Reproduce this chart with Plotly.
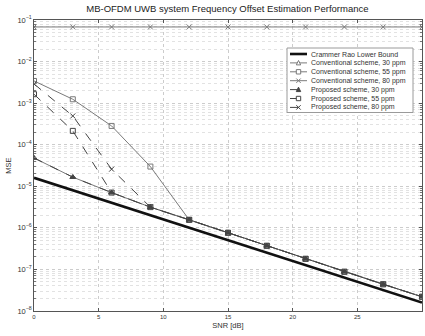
import plotly.graph_objects as go

snr = [0, 3, 6, 9, 12, 15, 18, 21, 24, 27, 30]

crlb = [1.6e-5, 8.0e-6, 4.0e-6, 2.0e-6, 1.0e-6, 5.0e-7, 2.5e-7, 1.27e-7, 6.4e-8, 3.2e-8, 1.6e-8]
conv_30 = [4.8e-5, 1.66e-5, 7.06e-6, 3.15e-6, 1.56e-6, 7.6e-7, 3.7e-7, 1.8e-7, 8.8e-8, 4.4e-8, 2.2e-8]
conv_55 = [3.42e-3, 1.24e-3, 2.83e-4, 2.98e-5, 1.56e-6, 7.6e-7, 3.7e-7, 1.8e-7, 8.8e-8, 4.4e-8, 2.2e-8]
conv_80 = [0.068] * 11
prop_30 = [4.8e-5, 1.66e-5, 7.06e-6, 3.15e-6, 1.56e-6, 7.6e-7, 3.7e-7, 1.8e-7, 8.8e-8, 4.4e-8, 2.2e-8]
prop_55 = [1.64e-3, 2.15e-4, 7.06e-6, 3.15e-6, 1.56e-6, 7.6e-7, 3.7e-7, 1.8e-7, 8.8e-8, 4.4e-8, 2.2e-8]
prop_80 = [2.9e-3, 4.92e-4, 2.58e-5, 3.15e-6, 1.56e-6, 7.6e-7, 3.7e-7, 1.8e-7, 8.8e-8, 4.4e-8, 2.2e-8]

names = ["Crammer Rao Lower Bound", "Conventional scheme, 30 ppm", "Conventional scheme, 55 ppm",
         "Conventional scheme, 80 ppm", "Proposed scheme, 30 ppm", "Proposed scheme, 55 ppm",
         "Proposed scheme, 80 ppm"]

FONT = "Liberation Sans, Arial, sans-serif"
W, H = 425, 336
ML, MR, MT, MB = 34, 3, 20, 25
PW, PH = W - ML - MR, H - MT - MB

solid_c = "#7a7a7a"
dash_c = "#444444"

# (name, y, line color, width, dash, marker symbol, marker filled)
series = [
    (names[0], crlb, "#111111", 2.6, "solid", None, False),
    (names[1], conv_30, solid_c, 1, "solid", "triangle-up-open", False),
    (names[2], conv_55, solid_c, 1, "solid", "square-open", False),
    (names[3], conv_80, solid_c, 1, "solid", "x-thin-open", False),
    (names[4], prop_30, dash_c, 1, "dash", "triangle-up", True),
    (names[5], prop_55, dash_c, 1, "dash", "square-open", False),
    (names[6], prop_80, dash_c, 1, "dash", "x-thin-open", False),
]

fig = go.Figure()
for nm, ys, col, lw, ds, sym, filled in series:
    if sym is None:
        fig.add_trace(go.Scatter(x=snr, y=ys, name=nm, mode="lines", showlegend=False,
                                 line=dict(color=col, width=lw, dash=ds)))
    else:
        fig.add_trace(go.Scatter(x=snr, y=ys, name=nm, mode="lines+markers", showlegend=False,
                                 line=dict(color=col, width=lw, dash=ds),
                                 marker=dict(symbol=sym, size=5, color=col, line=dict(width=1, color=col))))

# ---- hand-built compact legend (Matlab style) ----
def px(x):
    return (x - ML) / PW

def py(y):
    return (ML * 0 + (MT + PH) - y) / PH

shapes = []
annotations = []
bx0, bx1, by0, by1 = 287, 413, 48, 112.5
shapes.append(dict(type="rect", xref="paper", yref="paper", x0=px(bx0), x1=px(bx1), y0=py(by1), y1=py(by0),
                   line=dict(color="#9a9a9a", width=1), fillcolor="white", layer="above"))
lx0, lx1, mx = 290, 307, 298.5
for i, (nm, ys, col, lw, ds, sym, filled) in enumerate(series):
    yc = 54 + 8.9 * i
    shapes.append(dict(type="line", xref="paper", yref="paper", x0=px(lx0), x1=px(lx1), y0=py(yc), y1=py(yc),
                       line=dict(color=col, width=lw, dash="dash" if ds == "dash" else "solid"), layer="above"))
    s = 2.2
    if sym is not None:
        if sym.startswith("triangle"):
            path = "M {} {} L {} {} L {} {} Z".format(px(mx - s), py(yc + s * 0.9), px(mx + s), py(yc + s * 0.9),
                                                       px(mx), py(yc - s * 1.1))
            shapes.append(dict(type="path", xref="paper", yref="paper", path=path, layer="above",
                               line=dict(color=col, width=1), fillcolor=col if filled else "white"))
        elif sym.startswith("square"):
            shapes.append(dict(type="rect", xref="paper", yref="paper", x0=px(mx - s), x1=px(mx + s),
                               y0=py(yc + s), y1=py(yc - s), layer="above",
                               line=dict(color=col, width=1), fillcolor="white"))
        else:
            path = "M {} {} L {} {} M {} {} L {} {}".format(px(mx - s), py(yc - s), px(mx + s), py(yc + s),
                                                           px(mx - s), py(yc + s), px(mx + s), py(yc - s))
            shapes.append(dict(type="path", xref="paper", yref="paper", path=path, layer="above",
                               line=dict(color=col, width=1)))
    annotations.append(dict(text=nm, xref="paper", yref="paper", x=px(309), y=py(yc),
                            xanchor="left", yanchor="middle", showarrow=False,
                            font=dict(family=FONT, size=7, color="#333333")))

fig.update_layout(
    width=W, height=H,
    margin=dict(l=ML, r=MR, t=MT, b=MB),
    paper_bgcolor="white", plot_bgcolor="white",
    font=dict(family=FONT, size=6, color="#333333"),
    title=dict(text="MB-OFDM UWB system Frequency Offset Estimation Performance",
               x=0.535, xanchor="center", y=0.985, yanchor="top",
               font=dict(family=FONT, size=9.5, color="#222222")),
    showlegend=False,
    shapes=shapes,
    annotations=annotations,
)
fig.update_xaxes(range=[0, 30], dtick=5, ticks="inside", ticklen=3, tickcolor="#555555",
                 showline=True, mirror="ticks", linecolor="#555555", linewidth=1,
                 showgrid=True, gridcolor="#cccccc", griddash="dot", gridwidth=1,
                 zeroline=False,
                 title=dict(text="SNR [dB]", standoff=3, font=dict(family=FONT, size=7.5, color="#333333")))
fig.update_yaxes(type="log", range=[-8, -1], dtick=1, exponentformat="power",
                 ticks="inside", ticklen=3, tickcolor="#555555",
                 showline=True, mirror="ticks", linecolor="#555555", linewidth=1,
                 showgrid=True, gridcolor="#cccccc", griddash="dot", gridwidth=1,
                 minor=dict(showgrid=True, gridcolor="#e2e2e2", griddash="dot", ticks="inside",
                            ticklen=2, tickcolor="#777777"),
                 zeroline=False,
                 title=dict(text="MSE", standoff=4, font=dict(family=FONT, size=7.5, color="#333333")))

fig.write_html("out.html")
